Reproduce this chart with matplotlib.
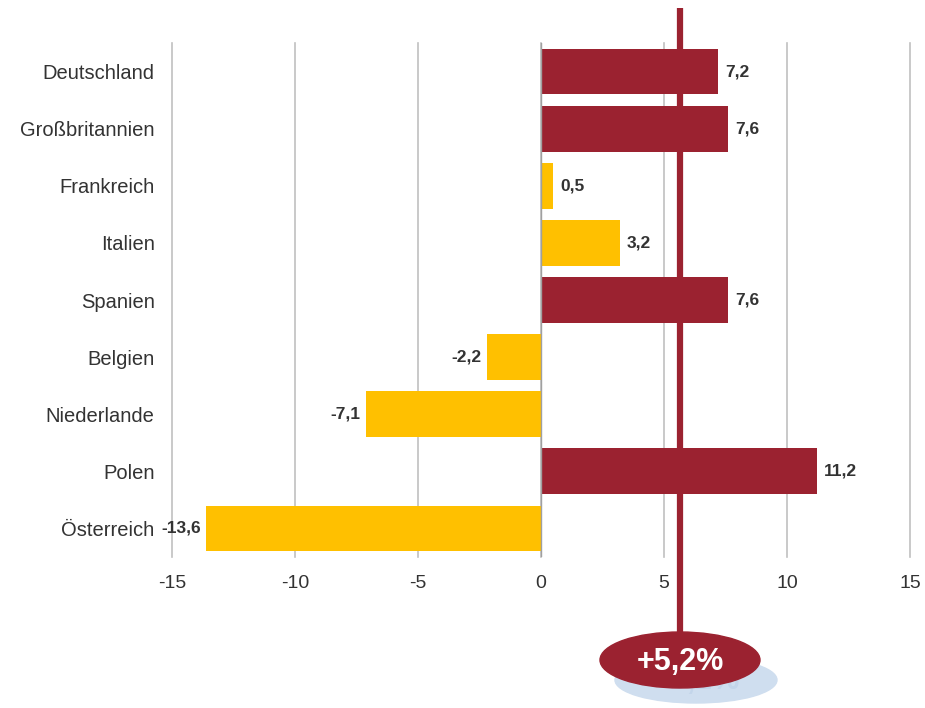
import matplotlib
matplotlib.use("Agg")
import matplotlib.pyplot as plt
from matplotlib.patches import Ellipse
import numpy as np

plt.rcParams['font.family'] = ['Liberation Sans', 'DejaVu Sans']

# data
countries = ["Deutschland", "Großbritannien", "Frankreich", "Italien", "Spanien",
             "Belgien", "Niederlande", "Polen", "Österreich"]
values = [7.2, 7.6, 0.5, 3.2, 7.6, -2.2, -7.1, 11.2, -13.6]
above_avg = [True, True, False, False, True, False, False, True, False]
avg_label = "+5,2%"
avg_line_x = 5.65   # where the marker line sits on the axis
xticks = [-15, -10, -5, 0, 5, 10, 15]

RED = "#9b2230"
YELLOW = "#ffc000"
SHADOW = "#cfdeef"

fig = plt.figure(figsize=(9.25, 7.08), dpi=100)
ax = fig.add_axes([172/925, 1-557/708, (910-172)/925, (557-43)/708])

y = np.arange(len(countries))
colors = [RED if a else YELLOW for a in above_avg]
ax.barh(y, values, height=0.8, color=colors, zorder=3)

ax.set_ylim(len(countries)-0.5, -0.5)
ax.set_xlim(-15, 15)
ax.set_xticks(xticks)
ax.set_xticklabels([str(t) for t in xticks], fontsize=14, color="#333333")
ax.set_yticks(y)
ax.set_yticklabels(countries, fontsize=14.5, color="#333333")
ax.tick_params(axis="both", length=0)
ax.tick_params(axis="y", pad=12.5)
ax.tick_params(axis="x", pad=13)
ax.grid(axis="x", color="#c0c0c0", linewidth=1.2, zorder=0)
for gl in ax.get_xgridlines():
    gl.set_clip_on(False)
for s in ax.spines.values():
    s.set_visible(False)
ax.axvline(0, color="#a0a0a0", linewidth=1, zorder=4)

for yi, v in zip(y, values):
    txt = f"{v:.1f}".replace(".", ",")
    if v >= 0:
        ax.annotate(txt, (v, yi), xytext=(5, 0), textcoords="offset points",
                    ha="left", va="center", fontsize=12.5, fontweight="bold", color="#333333")
    else:
        ax.annotate(txt, (v, yi), xytext=(-4, 0), textcoords="offset points",
                    ha="right", va="center", fontsize=12.5, fontweight="bold", color="#333333")

# overlay in pixel space for the average marker
ov = fig.add_axes([0, 0, 1, 1], facecolor="none")
ov.set_xlim(0, 925)
ov.set_ylim(708, 0)
ov.axis("off")
fig.canvas.draw()
px = ax.transData.transform((avg_line_x, 0))[0]

ov.add_patch(Ellipse((px + 16, 680), 162, 46, color=SHADOW, zorder=1))
ov.text(px + 16, 681, avg_label, ha="center", va="center", fontsize=22,
        fontweight="bold", color="#c3d5ea", zorder=1.5)
ov.plot([px, px], [8, 640], color=RED, linewidth=4.5, zorder=2, solid_capstyle="butt")
ov.add_patch(Ellipse((px, 660), 160, 56, color=RED, zorder=3))
ov.text(px, 662, avg_label, ha="center", va="center", fontsize=22,
        fontweight="bold", color="white", zorder=4)

fig.savefig("out.png", dpi=100)
